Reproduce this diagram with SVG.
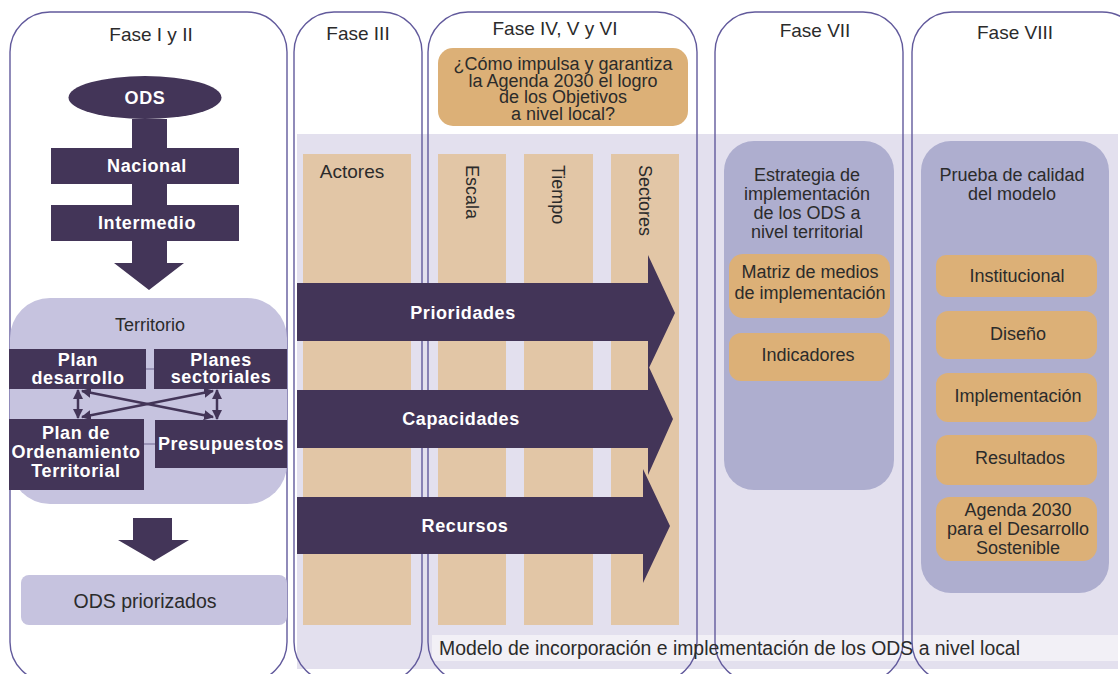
<svg xmlns="http://www.w3.org/2000/svg" width="1120" height="674" viewBox="0 0 1120 674">
<defs>
<style>
.phase{fill:#ffffff;stroke:none}
.phs{fill:none;stroke:#625a9c;stroke-width:1.4}
.dk{fill:#433558}
.t{font-family:"Liberation Sans",Arial,sans-serif;font-size:18px;fill:#2b2b2b;text-anchor:middle}
.h{font-size:19px}
.b{font-family:"Liberation Sans",Arial,sans-serif;font-size:18px;font-weight:bold;fill:#ffffff;text-anchor:middle;letter-spacing:0.6px}
.beige{fill:#e2c6a6}
.org{fill:#dcb077}
.pan{fill:#aeaecf}
.lav{fill:#c6c3df}
.con{stroke:#433558;stroke-width:2.5;fill:none}
</style>
<marker id="ah" viewBox="0 0 10 10" refX="9" refY="5" markerWidth="4" markerHeight="4" orient="auto-start-reverse">
<path d="M0,0 L10,5 L0,10 z" fill="#433558"/>
</marker>
</defs>
<rect width="1120" height="674" fill="#ffffff"/>

<g id="phase-fills">
<rect class="phase" x="10" y="12" width="277" height="670" rx="40"/>
<rect class="phase" x="294" y="12" width="128" height="670" rx="40"/>
<rect class="phase" x="428" y="12" width="269" height="670" rx="40"/>
<rect class="phase" x="715" y="12" width="188" height="670" rx="40"/>
<rect class="phase" x="912" y="12" width="230" height="670" rx="40"/>
</g>

<g id="band">
<rect x="297" y="134" width="821" height="535" fill="#e3e0ee"/>
<rect x="432" y="635" width="686" height="26" fill="#f2f0f6"/>
</g>

<g id="phase-strokes">
<rect class="phs" x="10" y="12" width="277" height="670" rx="40"/>
<rect class="phs" x="294" y="12" width="128" height="670" rx="40"/>
<rect class="phs" x="428" y="12" width="269" height="670" rx="40"/>
<rect class="phs" x="715" y="12" width="188" height="670" rx="40"/>
<rect class="phs" x="912" y="12" width="230" height="670" rx="40"/>
</g>

<g id="titles">
<text class="t h" x="151" y="41">Fase I y II</text>
<text class="t h" x="358" y="40">Fase III</text>
<text class="t h" x="555" y="35">Fase IV, V y VI</text>
<text class="t h" x="815" y="37">Fase VII</text>
<text class="t h" x="1015" y="39">Fase VIII</text>
</g>

<g id="ods">
<path class="dk" d="M132,119 H167 V263 H184 L149,290 L114,263 H132 Z"/>
<ellipse class="dk" cx="145" cy="97.5" rx="76.5" ry="21.5"/>
<text class="b" x="145" y="104">ODS</text>
</g>
<g id="nacional">
<rect class="dk" x="51" y="148" width="188" height="36"/>
<text class="b" x="147" y="172">Nacional</text>
</g>
<g id="intermedio">
<rect class="dk" x="51" y="205" width="188" height="36"/>
<text class="b" x="147" y="229">Intermedio</text>
</g>
<g id="territorio">
<rect class="lav" x="10" y="298" width="277" height="206" rx="40"/>
<text class="t" x="150" y="331">Territorio</text>
</g>
<g id="plan-desarrollo">
<rect class="dk" x="9" y="349" width="137" height="40"/>
<text class="b" x="78" y="366">Plan</text>
<text class="b" x="78" y="384">desarrollo</text>
</g>
<g id="planes-sectoriales">
<rect class="dk" x="154" y="349" width="133" height="40"/>
<text class="b" x="221" y="366">Planes</text>
<text class="b" x="221" y="383">sectoriales</text>
</g>
<g id="plan-ot">
<rect class="dk" x="9" y="419" width="135" height="71"/>
<text class="b" x="76" y="439">Plan de</text>
<text class="b" x="76" y="458">Ordenamiento</text>
<text class="b" x="76" y="477">Territorial</text>
</g>
<g id="presupuestos">
<rect class="dk" x="155" y="420" width="132" height="48"/>
<text class="b" x="221" y="450">Presupuestos</text>
</g>
<g id="down-arrow">
<path class="dk" d="M133,518 H172 V540 H189 L154,561 L118,540 H133 Z"/>
</g>
<g id="ods-priorizados">
<rect class="lav" x="21" y="575" width="266" height="50" rx="8"/>
<text class="t" style="font-size:19.5px" x="145" y="608">ODS priorizados</text>
</g>

<g id="actores">
<rect class="beige" x="303" y="154" width="108" height="471"/>
<text class="t h" x="352" y="178">Actores</text>
</g>
<g id="escala">
<rect class="beige" x="438" y="154" width="68" height="471"/>
<text class="t" style="text-anchor:start" transform="translate(466,165) rotate(90)">Escala</text>
</g>
<g id="tiempo">
<rect class="beige" x="524" y="154" width="69" height="471"/>
<text class="t" style="text-anchor:start" transform="translate(552,165) rotate(90)">Tiempo</text>
</g>
<g id="sectores">
<rect class="beige" x="611" y="154" width="68" height="471"/>
<text class="t" style="text-anchor:start" transform="translate(639,165) rotate(90)">Sectores</text>
</g>

<g id="pregunta">
<rect class="org" x="438" y="48" width="250" height="78" rx="15"/>
<text class="t" x="563" y="70">¿Cómo impulsa y garantiza</text>
<text class="t" x="563" y="87">la Agenda 2030 el logro</text>
<text class="t" x="563" y="103">de los Objetivos</text>
<text class="t" x="563" y="120">a nivel local?</text>
</g>

<g id="recursos">
<path class="dk" d="M297,497 H643 V469 L670,526 L643,583 V554 H297 Z"/>
<text class="b" x="465" y="532">Recursos</text>
</g>
<g id="capacidades">
<path class="dk" d="M297,390 H648 V365 L673,419 L648,475 V448 H297 Z"/>
<text class="b" x="461" y="425">Capacidades</text>
</g>
<g id="prioridades">
<path class="dk" d="M297,283 H648 V255 L675,313 L648,370 V341 H297 Z"/>
<text class="b" x="463" y="319">Prioridades</text>
</g>

<g id="estrategia">
<rect class="pan" x="724" y="141" width="170" height="349" rx="30"/>
<text class="t" x="807" y="181">Estrategia de</text>
<text class="t" x="807" y="200">implementación</text>
<text class="t" x="807" y="219">de los ODS a</text>
<text class="t" x="807" y="238">nivel territorial</text>
</g>
<g id="matriz">
<rect class="org" x="729" y="254" width="161" height="64" rx="14"/>
<text class="t" x="810" y="278">Matriz de medios</text>
<text class="t" x="810" y="299">de implementación</text>
</g>
<g id="indicadores">
<rect class="org" x="729" y="333" width="161" height="48" rx="12"/>
<text class="t" x="808" y="361">Indicadores</text>
</g>

<g id="prueba">
<rect class="pan" x="921" y="141" width="188" height="452" rx="30"/>
<text class="t" x="1012" y="181">Prueba de calidad</text>
<text class="t" x="1012" y="200">del modelo</text>
</g>
<g id="institucional">
<rect class="org" x="936" y="255" width="161" height="42" rx="10"/>
<text class="t" x="1017" y="282">Institucional</text>
</g>
<g id="diseno">
<rect class="org" x="936" y="311" width="161" height="48" rx="12"/>
<text class="t" x="1018" y="340">Diseño</text>
</g>
<g id="implementacion">
<rect class="org" x="936" y="373" width="161" height="49" rx="12"/>
<text class="t" x="1018" y="402">Implementación</text>
</g>
<g id="resultados">
<rect class="org" x="936" y="435" width="161" height="50" rx="12"/>
<text class="t" x="1020" y="464">Resultados</text>
</g>
<g id="agenda">
<rect class="org" x="936" y="497" width="161" height="64" rx="14"/>
<text class="t" x="1018" y="516">Agenda 2030</text>
<text class="t" x="1018" y="535">para el Desarrollo</text>
<text class="t" x="1018" y="554">Sostenible</text>
</g>

<g id="modelo">
<text class="t" style="text-anchor:start;font-size:19.4px" x="439" y="655">Modelo de incorporación e implementación de los ODS a nivel local</text>
</g>

<g id="connectors">
<line x1="146" y1="369" x2="154" y2="369" stroke="#9a94b8" stroke-width="2"/>
<line x1="144" y1="444" x2="155" y2="444" stroke="#9a94b8" stroke-width="2"/>
<line class="con" x1="78" y1="390" x2="78" y2="418" marker-start="url(#ah)" marker-end="url(#ah)"/>
<line class="con" x1="217" y1="390" x2="217" y2="419" marker-start="url(#ah)" marker-end="url(#ah)"/>
<line class="con" x1="82" y1="391" x2="213" y2="417" marker-start="url(#ah)" marker-end="url(#ah)"/>
<line class="con" x1="82" y1="417" x2="213" y2="391" marker-start="url(#ah)" marker-end="url(#ah)"/>
</g>
</svg>
